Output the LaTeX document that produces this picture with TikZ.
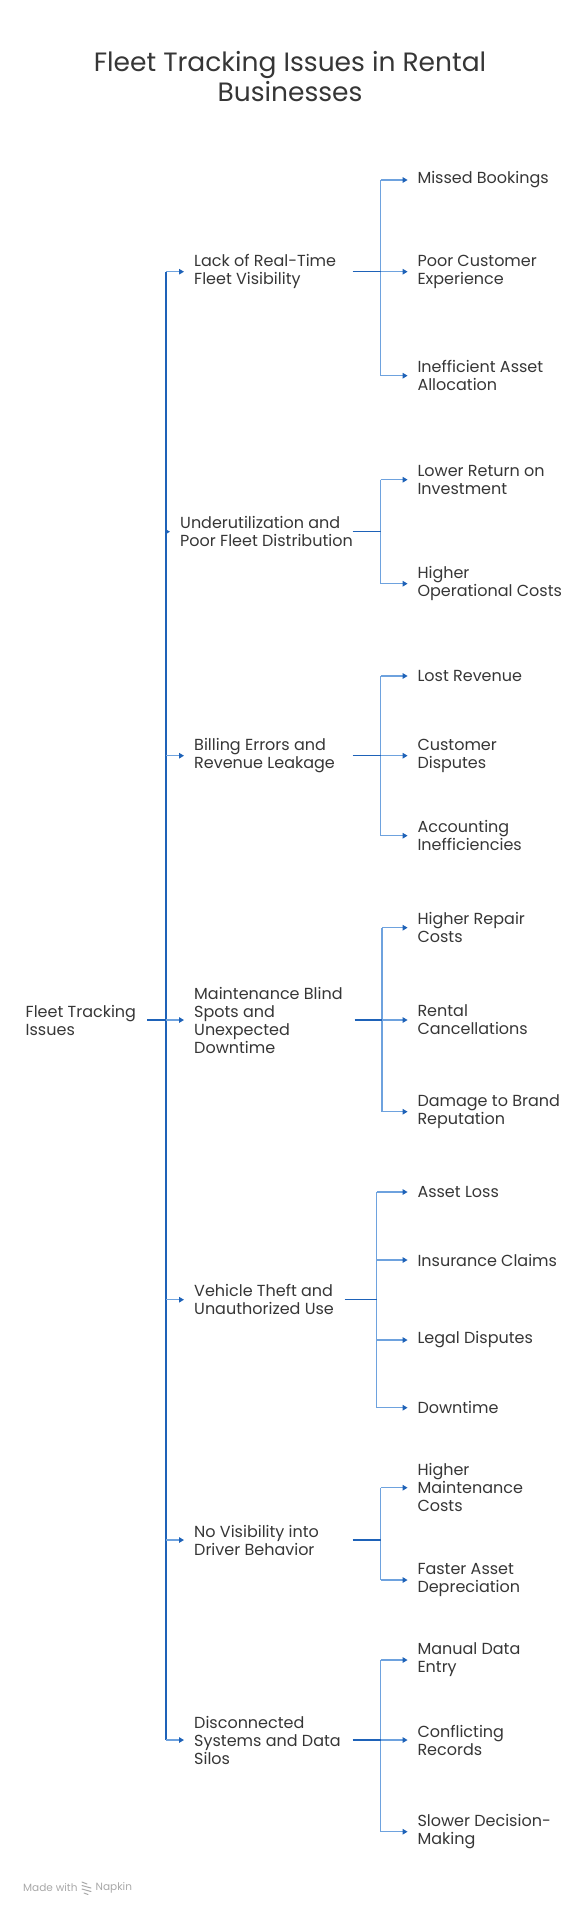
\documentclass[tikz,border=0pt]{standalone}
\usepackage{fontspec}
\setmainfont{Poppins}
\usetikzlibrary{arrows.meta}
\definecolor{txt}{HTML}{363636}
\definecolor{dk}{HTML}{1E62B8}
\definecolor{lt}{HTML}{6EA2DE}
\definecolor{foot}{HTML}{A8A8A8}
\tikzset{
  lbl/.style={anchor=west,inner sep=0pt,align=left,text=txt,font=\fontsize{16}{18}\selectfont},
  darkline/.style={draw=dk,line width=1.3pt},
  lightline/.style={draw=lt,line width=1.3pt},
  tip/.style={-{Triangle[length=5pt,width=5.5pt,fill=dk,color=dk]}},
  toleaf/.style={lightline,tip,shorten >=9.7pt},
  tobranch/.style={lightline,tip,shorten >=10pt},
}
\begin{document}
\begin{tikzpicture}[x=1pt,y=-1pt]
\useasboundingbox (0,0) rectangle (587,1916);
% title
\node[text=txt,font=\fontsize{26.5}{30}\selectfont,align=center] (title) at (290,77) {Fleet Tracking Issues in Rental\\Businesses};
% root
\node[lbl] (root) at (25.5,1020) {Fleet Tracking\\Issues};
% trunk coordinates
\coordinate (r0) at (147.4,1020);
\coordinate (t1) at (166,271.7);
\coordinate (t2) at (166,531.7);
\coordinate (t3) at (166,755.7);
\coordinate (t4) at (166,1020);
\coordinate (t5) at (166,1299.7);
\coordinate (t6) at (166,1540);
\coordinate (t7) at (166,1740);
% branches
\node[lbl] (b1) at (194,271.7) {Lack of Real-Time\\Fleet Visibility};
\node[lbl] (b2) at (180,531.7) {Underutilization and\\Poor Fleet Distribution};
\node[lbl] (b3) at (194,755.7) {Billing Errors and\\Revenue Leakage};
\node[lbl] (b4) at (194,1020) {Maintenance Blind\\Spots and\\Unexpected\\Downtime};
\node[lbl] (b5) at (194,1299.7) {Vehicle Theft and\\Unauthorized Use};
\node[lbl] (b6) at (194,1540) {No Visibility into\\Driver Behavior};
\node[lbl] (b7) at (194,1740) {Disconnected\\Systems and Data\\Silos};
% leaves
\node[lbl] (c11) at (417.3,180) {Missed Bookings};
\node[lbl] (c12) at (417.3,271.7) {Poor Customer\\Experience};
\node[lbl] (c13) at (417.3,375.7) {Inefficient Asset\\Allocation};
\node[lbl] (c21) at (417.3,479.7) {Lower Return on\\Investment};
\node[lbl] (c22) at (417.3,583.7) {Higher\\Operational Costs};
\node[lbl] (c31) at (417.3,676) {Lost Revenue};
\node[lbl] (c32) at (417.3,755.7) {Customer\\Disputes};
\node[lbl] (c33) at (417.3,835.7) {Accounting\\Inefficiencies};
\node[lbl] (c41) at (417.3,927.7) {Higher Repair\\Costs};
\node[lbl] (c42) at (417.3,1020) {Rental\\Cancellations};
\node[lbl] (c43) at (417.3,1111.7) {Damage to Brand\\Reputation};
\node[lbl] (c51) at (417.3,1192) {Asset Loss};
\node[lbl] (c52) at (417.3,1260) {Insurance Claims};
\node[lbl] (c53) at (417.3,1340) {Legal Disputes};
\node[lbl] (c54) at (417.3,1407.7) {Downtime};
\node[lbl] (c61) at (417.3,1487.7) {Higher\\Maintenance\\Costs};
\node[lbl] (c62) at (417.3,1580) {Faster Asset\\Depreciation};
\node[lbl] (c71) at (417.3,1660) {Manual Data\\Entry};
\node[lbl] (c72) at (417.3,1740) {Conflicting\\Records};
\node[lbl] (c73) at (417.3,1831.7) {Slower Decision-\\Making};
% root to trunk
\draw[darkline] (r0) -- (t4);
\draw[darkline] (t1) -- (t7);
\foreach \i in {1,...,7}{\draw[tobranch] (t\i) -- (b\i.west);}
% sub connectors: start s, bar v
\coordinate (s1) at (352.5,271.7);  \coordinate (v1) at (380.6,271.7);
\coordinate (s2) at (352.5,531.7);  \coordinate (v2) at (380.6,531.7);
\coordinate (s3) at (352.5,755.7);  \coordinate (v3) at (380.6,755.7);
\coordinate (s4) at (354.7,1020);   \coordinate (v4) at (382,1020);
\coordinate (s5) at (344.6,1299.7); \coordinate (v5) at (376.8,1299.7);
\coordinate (s6) at (352.5,1540);   \coordinate (v6) at (380.6,1540);
\coordinate (s7) at (352.5,1740);   \coordinate (v7) at (380.6,1740);
% branch 1
\draw[lightline] (v1 |- c11.west) -- (v1 |- c13.west);
\draw[darkline] (s1) -- (v1);
\foreach \c in {c11,c12,c13}{\draw[toleaf] (v1 |- \c.west) -- (\c.west);}
% branch 2
\draw[lightline] (v2 |- c21.west) -- (v2 |- c22.west);
\draw[darkline] (s2) -- (v2);
\foreach \c in {c21,c22}{\draw[toleaf] (v2 |- \c.west) -- (\c.west);}
% branch 3
\draw[lightline] (v3 |- c31.west) -- (v3 |- c33.west);
\draw[darkline] (s3) -- (v3);
\foreach \c in {c31,c32,c33}{\draw[toleaf] (v3 |- \c.west) -- (\c.west);}
% branch 4
\draw[lightline] (v4 |- c41.west) -- (v4 |- c43.west);
\draw[darkline] (s4) -- (v4);
\foreach \c in {c41,c42,c43}{\draw[toleaf] (v4 |- \c.west) -- (\c.west);}
% branch 5
\draw[lightline] (v5 |- c51.west) -- (v5 |- c54.west);
\draw[darkline] (s5) -- (v5);
\foreach \c in {c51,c52,c53,c54}{\draw[toleaf] (v5 |- \c.west) -- (\c.west);}
% branch 6
\draw[lightline] (v6 |- c61.west) -- (v6 |- c62.west);
\draw[darkline] (s6) -- (v6);
\foreach \c in {c61,c62}{\draw[toleaf] (v6 |- \c.west) -- (\c.west);}
% branch 7
\draw[lightline] (v7 |- c71.west) -- (v7 |- c73.west);
\draw[darkline] (s7) -- (v7);
\foreach \c in {c71,c72,c73}{\draw[toleaf] (v7 |- \c.west) -- (\c.west);}
% footer
\node[anchor=west,inner sep=0pt,text=foot,font=\fontsize{10.5}{12}\selectfont] (made) at (23,1888) {Made with};
\node[anchor=west,inner sep=0pt,text=foot,font=\fontsize{10.5}{12}\selectfont] (napkin) at (95.5,1888) {Napkin};
\begin{scope}[draw=foot,line width=1pt,line cap=round]
\draw (82,1882) -- (87,1884);
\draw (82,1885.5) -- (91,1888);
\draw (82,1889) -- (91,1891.5);
\draw (84,1893) -- (88,1894.5);
\end{scope}
\end{tikzpicture}
\end{document}
